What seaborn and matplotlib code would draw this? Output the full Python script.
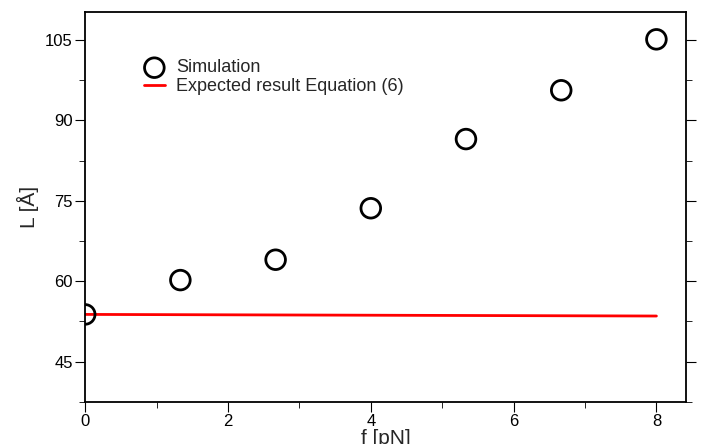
import matplotlib
matplotlib.use("Agg")
import matplotlib.pyplot as plt
import seaborn as sns
from matplotlib.ticker import MultipleLocator

force = [0.0, 1.333, 2.667, 4.0, 5.333, 6.667, 8.0]
length_sim = [53.8, 60.2, 64.0, 73.6, 86.5, 95.6, 105.1]
force_eq = [0.0, 8.0]
length_eq = [53.8, 53.5]

sns.set_style("ticks")
plt.rcParams["font.family"] = "Liberation Sans"
fig, ax = plt.subplots(figsize=(7.04, 4.44), dpi=100)
fig.subplots_adjust(left=0.121, right=0.975, top=0.973, bottom=0.095)

sns.lineplot(x=force_eq, y=length_eq, ax=ax, color="red", lw=2,
             label="Expected result Equation (6)")
sns.scatterplot(x=force, y=length_sim, ax=ax, s=200, facecolor="none",
                edgecolor="black", linewidth=2, label="Simulation", zorder=5)

ax.set_xlim(0, 8.42)
ax.set_ylim(37.5, 110.2)
ax.xaxis.set_major_locator(MultipleLocator(2))
ax.xaxis.set_minor_locator(MultipleLocator(1))
ax.yaxis.set_major_locator(MultipleLocator(15))
ax.yaxis.set_minor_locator(MultipleLocator(7.5))
ax.tick_params(which="both", direction="out", top=False, right=True,
               labelsize=12, colors="black", pad=2)
ax.tick_params(which="major", length=7)
ax.tick_params(which="minor", length=4)
for s in ax.spines.values():
    s.set_linewidth(1.3)
    s.set_color("black")
ax.set_xlabel("f [pN]", fontsize=15, labelpad=0)
ax.set_ylabel("L [Å]", fontsize=15)

h, l = ax.get_legend_handles_labels()
ax.legend(h[::-1], l[::-1], loc="upper left", bbox_to_anchor=(0.07, 0.92),
          frameon=False, fontsize=13, handlelength=1.2, handletextpad=0.6,
          labelspacing=0.1)
fig.savefig("out.png")
